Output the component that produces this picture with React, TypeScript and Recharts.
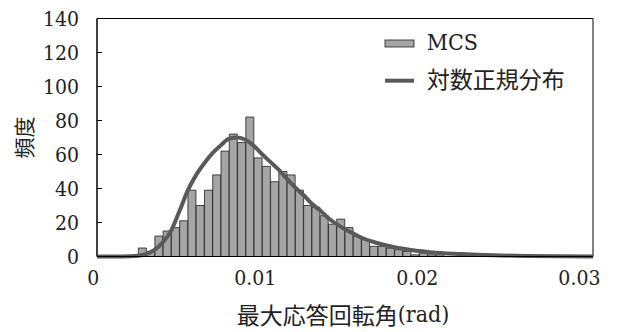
import React from 'react';
import { ComposedChart, Bar, Line, XAxis, YAxis, ReferenceArea, Legend, Label } from 'recharts';

const binCenters = [
  0.00275, 0.00325, 0.00375, 0.00425, 0.00475, 0.00525, 0.00575, 0.00625, 0.00675, 0.00725,
  0.00775, 0.00825, 0.00875, 0.00925, 0.00975, 0.01025, 0.01075, 0.01125, 0.01175, 0.01225,
  0.01275, 0.01325, 0.01375, 0.01425, 0.01475, 0.01525, 0.01575, 0.01625, 0.01675, 0.01725,
  0.01775, 0.01825, 0.01875, 0.01925, 0.01975, 0.02025, 0.02075,
];
const mcsCounts = [
  5, 3, 12, 15, 17, 21, 39, 30, 39, 48,
  62, 72, 67, 82, 58, 53, 44, 50, 48, 39,
  30, 29, 24, 19, 22, 17, 12, 10, 6, 6,
  5, 4, 3, 1, 2, 1, 1,
];
const curveX = [
  0, 0.001, 0.002, 0.0025, 0.003, 0.0035, 0.004, 0.0045, 0.005, 0.0055,
  0.006, 0.0065, 0.007, 0.0075, 0.008, 0.0085, 0.009, 0.0095, 0.01, 0.0105,
  0.011, 0.0115, 0.012, 0.0125, 0.013, 0.0135, 0.014, 0.0145, 0.015, 0.0155,
  0.016, 0.017, 0.018, 0.019, 0.02, 0.021, 0.022, 0.023, 0.024, 0.026, 0.028, 0.03,
];
const curveY = [
  0, 0, 0.1, 0.4, 1.5, 4, 8.5, 15.5, 27, 39,
  48, 55, 61, 65.5, 69.3, 70, 68.5, 65, 60, 55.5,
  51, 45.5, 40.5, 36, 31, 27, 22.5, 19, 16, 13.5,
  11, 7.8, 5.4, 3.8, 2.7, 1.9, 1.4, 1.0, 0.7, 0.35, 0.15, 0.07,
];
const xTicks = [0, 0.01, 0.02, 0.03];
const yTicks = [0, 20, 40, 60, 80, 100, 120, 140];
const seriesNames = ['MCS', '対数正規分布'];
const xTitleMain = '最大応答回転角';
const xTitleUnit = '(rad)';
const yTitle = '頻度';

const barData = binCenters.map((x, i) => ({ x, count: mcsCounts[i] }));
const curveData = curveX.map((x, i) => ({ x, value: curveY[i] }));

const FONT = 'DejaVu Serif Condensed, DejaVu Serif, Noto Sans CJK JP';
const CJK = 'Noto Sans CJK JP';
const LATIN_STYLE: React.CSSProperties = { fontFamily: FONT, fontStretch: 'condensed' };
const TEXT = '#222';
const BAR_FILL = '#a5a5a5';
const BAR_STROKE = '#1e1e1e';
const LINE_COLOR = '#595959';

const XTick = (props: any) => {
  const { x, y, payload, index } = props;
  return (
    <text x={x} y={y} dx={-(3.7 + 3.3 * index)} dy="0.71em" textAnchor="middle" fontSize={21} fill={TEXT} style={LATIN_STYLE}>
      {String(payload.value)}
    </text>
  );
};

const YTick = (props: any) => {
  const { x, y, payload } = props;
  return (
    <text x={x} y={y} dy="0.355em" textAnchor="end" fontSize={21} fill={TEXT} style={LATIN_STYLE}>
      {String(payload.value)}
    </text>
  );
};

const LegendContent = () => (
  <svg width={240} height={70}>
    <rect x={5} y={15} width={29} height={7} fill={BAR_FILL} stroke={BAR_STROKE} strokeWidth={0.8} />
    <text x={46.7} y={17} dominantBaseline="central" fontSize={23} fill={TEXT} style={LATIN_STYLE}>{seriesNames[0]}</text>
    <line x1={5} x2={34} y1={55.7} y2={55.7} stroke={LINE_COLOR} strokeWidth={4} />
    <text x={46.7} y={53} dominantBaseline="central" fontSize={23} fill={TEXT} fontFamily={CJK}>{seriesNames[1]}</text>
  </svg>
);

export default function App() {
  return (
    <div style={{ position: 'absolute', left: 0, top: 0, background: '#fff' }}>
      <ComposedChart
        width={617}
        height={332}
        data={barData}
        margin={{ top: 18.5, right: 24, left: 0, bottom: 30.5 }}
        barCategoryGap={0}
        barGap={0}
      >
        <XAxis
          dataKey="x"
          type="number"
          domain={[0, 0.03]}
          ticks={xTicks}
          height={45}
          axisLine={{ stroke: '#000', strokeWidth: 1 }}
          tickLine={false}
          tickSize={0}
          tickMargin={14}
          tick={<XTick />}
          interval={0}
        >
          <Label
            content={(p: any) => {
              const vb = p.viewBox || { x: 97, y: 256.5, width: 496, height: 45 };
              return (
                <text x={vb.x + vb.width / 2 - 2} y={vb.y + 57.5} textAnchor="middle" dominantBaseline="central" fill={TEXT}>
                  <tspan fontSize={23} fontFamily={CJK}>{xTitleMain}</tspan>
                  <tspan fontSize={23} style={LATIN_STYLE}>{xTitleUnit}</tspan>
                </text>
              );
            }}
          />
        </XAxis>
        <XAxis xAxisId="line" dataKey="x" type="number" domain={[0, 0.03]} hide />
        <YAxis
          type="number"
          domain={[0, 140]}
          ticks={yTicks}
          width={97}
          axisLine={{ stroke: '#000', strokeWidth: 1 }}
          tickLine={{ stroke: '#000', strokeWidth: 1 }}
          tickSize={-5}
          tickMargin={23}
          tick={<YTick />}
          interval={0}
        >
          <Label
            content={(p: any) => {
              const vb = p.viewBox || { x: 0, y: 18.5, width: 97, height: 238 };
              const cy = vb.y + vb.height / 2;
              return (
                <text transform={`translate(23, ${cy}) rotate(-90)`} textAnchor="middle" dominantBaseline="central" fontSize={21} fill={TEXT} fontFamily={CJK}>
                  {yTitle}
                </text>
              );
            }}
          />
        </YAxis>
        <ReferenceArea x1={0} x2={0.03} y1={0} y2={140} fill="none" stroke="#000" strokeWidth={1} />
        <Bar dataKey="count" name={seriesNames[0]} fill={BAR_FILL} stroke={BAR_STROKE} strokeWidth={0.8} isAnimationActive={false} />
        <Line
          xAxisId="line"
          data={curveData}
          dataKey="value"
          name={seriesNames[1]}
          type="monotone"
          stroke={LINE_COLOR}
          strokeWidth={4}
          dot={false}
          activeDot={false}
          isAnimationActive={false}
        />
        <Legend
          layout="horizontal"
          verticalAlign="middle"
          align="center"
          wrapperStyle={{ left: 380, top: 25, width: 240, height: 70 }}
          content={() => <LegendContent />}
        />
      </ComposedChart>
    </div>
  );
}
